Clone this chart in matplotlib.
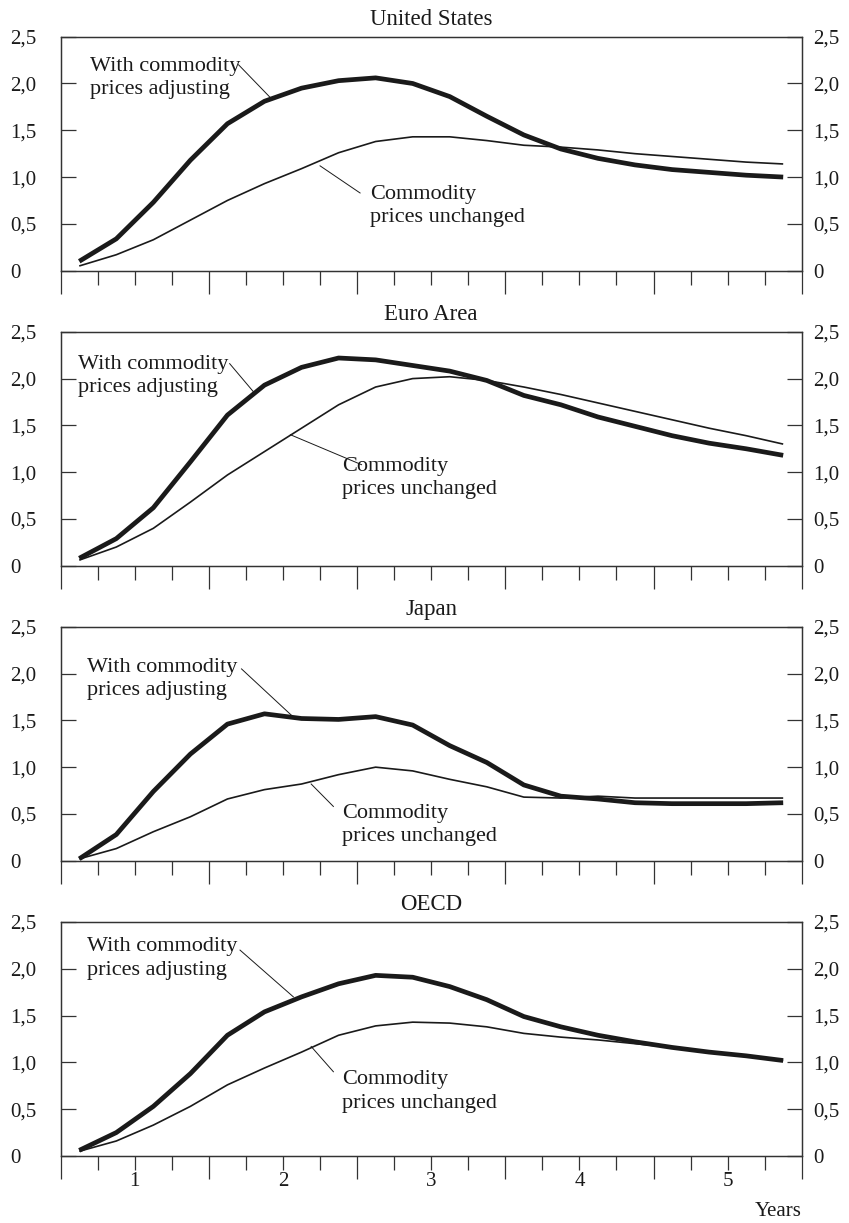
import matplotlib.pyplot as plt

plt.rcParams['font.family'] = ['Liberation Serif', 'DejaVu Serif']

# quarter midpoints (years)
quarters = [0.125, 0.375, 0.625, 0.875, 1.125, 1.375, 1.625, 1.875,
            2.125, 2.375, 2.625, 2.875, 3.125, 3.375, 3.625, 3.875,
            4.125, 4.375, 4.625, 4.875]

regions = ["United States", "Euro Area", "Japan", "OECD"]

us_adjusting = [0.10, 0.34, 0.73, 1.18, 1.57, 1.81, 1.95, 2.03, 2.06, 2.00,
                1.86, 1.65, 1.45, 1.30, 1.20, 1.13, 1.08, 1.05, 1.02, 1.00]
us_unchanged = [0.05, 0.17, 0.33, 0.54, 0.75, 0.93, 1.09, 1.26, 1.38, 1.43,
                1.43, 1.39, 1.34, 1.32, 1.29, 1.25, 1.22, 1.19, 1.16, 1.14]
euro_adjusting = [0.08, 0.29, 0.62, 1.11, 1.61, 1.93, 2.12, 2.22, 2.20, 2.14,
                  2.08, 1.98, 1.82, 1.72, 1.59, 1.49, 1.39, 1.31, 1.25, 1.18]
euro_unchanged = [0.06, 0.20, 0.40, 0.68, 0.97, 1.22, 1.47, 1.72, 1.91, 2.00,
                  2.02, 1.98, 1.91, 1.83, 1.74, 1.65, 1.56, 1.47, 1.39, 1.30]
japan_adjusting = [0.02, 0.28, 0.74, 1.14, 1.46, 1.57, 1.52, 1.51, 1.54, 1.45,
                   1.23, 1.05, 0.81, 0.69, 0.66, 0.62, 0.61, 0.61, 0.61, 0.62]
japan_unchanged = [0.02, 0.13, 0.31, 0.47, 0.66, 0.76, 0.82, 0.92, 1.00, 0.96,
                   0.87, 0.79, 0.68, 0.67, 0.69, 0.67, 0.67, 0.67, 0.67, 0.67]
oecd_adjusting = [0.06, 0.25, 0.53, 0.88, 1.29, 1.54, 1.70, 1.84, 1.93, 1.91,
                  1.81, 1.67, 1.49, 1.38, 1.29, 1.22, 1.16, 1.11, 1.07, 1.02]
oecd_unchanged = [0.05, 0.16, 0.33, 0.53, 0.76, 0.94, 1.11, 1.29, 1.39, 1.43,
                  1.42, 1.38, 1.31, 1.27, 1.24, 1.20, 1.16, 1.11, 1.07, 1.02]

adjusting = [us_adjusting, euro_adjusting, japan_adjusting, oecd_adjusting]
unchanged = [us_unchanged, euro_unchanged, japan_unchanged, oecd_unchanged]

y_ticks = [0, 0.5, 1.0, 1.5, 2.0, 2.5]
y_labels = ["0", "0,5", "1,0", "1,5", "2,0", "2,5"]
year_pos = [0.5, 1.5, 2.5, 3.5, 4.5]
year_labels = ["1", "2", "3", "4", "5"]

# annotation layout: text anchor (left, middle) and leader line (start, end)
adj_text = [(0.20, 2.06), (0.12, 2.03), (0.18, 1.94), (0.18, 2.11)]
adj_line = [((1.20, 2.20), (1.42, 1.84)), ((1.14, 2.16), (1.30, 1.86)),
            ((1.22, 2.05), (1.56, 1.55)), ((1.21, 2.20), (1.57, 1.70))]
unc_text = [(2.09, 0.69), (1.90, 0.94), (1.90, 0.38), (1.90, 0.69)]
unc_line = [((2.02, 0.83), (1.75, 1.12)), ((2.03, 1.08), (1.55, 1.40)),
            ((1.84, 0.58), (1.69, 0.82)), ((1.84, 0.90), (1.69, 1.17))]

ink = '#1a1a1a'
frame = '#333333'

fig = plt.figure(figsize=(8.49, 12.23), dpi=100)
bottoms = [0.7787, 0.5374, 0.2962, 0.0548]

for i, name in enumerate(regions):
    ax = fig.add_axes([0.0715, bottoms[i], 0.8728, 0.1913])
    ax.plot(quarters, unchanged[i], color=ink, lw=1.2, solid_capstyle='butt')
    ax.plot(quarters, adjusting[i], color=ink, lw=3.4, solid_capstyle='butt')
    ax.set_xlim(0, 5)
    ax.set_ylim(0, 2.5)
    ax.set_title(name, fontsize=16.5, pad=8.3, color=ink)

    for sp in ax.spines.values():
        sp.set_color(frame)
        sp.set_linewidth(0.9)

    ax.set_yticks(y_ticks)
    ax.set_yticklabels(y_labels)
    ax.tick_params(axis='y', direction='in', length=10.8, width=0.9,
                   color=frame, labelsize=15, pad=36.5, labelcolor=ink)
    for lab in ax.get_yticklabels():
        lab.set_horizontalalignment('left')

    ax2 = ax.twinx()
    ax2.set_ylim(0, 2.5)
    ax2.set_yticks(y_ticks)
    ax2.set_yticklabels(y_labels)
    ax2.tick_params(axis='y', direction='in', length=10.8, width=0.9,
                    color=frame, labelsize=15, pad=8.4, labelcolor=ink)
    for sp in ax2.spines.values():
        sp.set_color(frame)
        sp.set_linewidth(0.9)

    ax.set_xticks([0, 1, 2, 3, 4, 5])
    ax.set_xticks([q / 4 for q in range(1, 20) if q % 4], minor=True)
    ax.tick_params(axis='x', which='major', direction='out', length=16.3,
                   width=0.9, color=frame, labelbottom=False)
    ax.tick_params(axis='x', which='minor', direction='out', length=10,
                   width=0.9, color=frame)
    if i == 3:
        for xp, lab in zip(year_pos, year_labels):
            ax.text(xp, -0.27, lab, ha='center', va='center', fontsize=15,
                    color=ink)
        ax.text(5.0, -0.59, "Years", ha='right', va='center', fontsize=15,
                color=ink)

    tx, ty = adj_text[i]
    ax.text(tx, ty, "With commodity\nprices adjusting", ha='left',
            va='center', fontsize=16, linespacing=1.3, color=ink)
    (x0, y0), (x1, y1) = adj_line[i]
    ax.plot([x0, x1], [y0, y1], color=ink, lw=0.7)

    tx, ty = unc_text[i]
    ax.text(tx, ty, "Commodity\nprices unchanged", ha='left',
            va='center', fontsize=16, linespacing=1.3, color=ink)
    (x0, y0), (x1, y1) = unc_line[i]
    ax.plot([x0, x1], [y0, y1], color=ink, lw=0.7)

fig.savefig("out.png", dpi=100)
